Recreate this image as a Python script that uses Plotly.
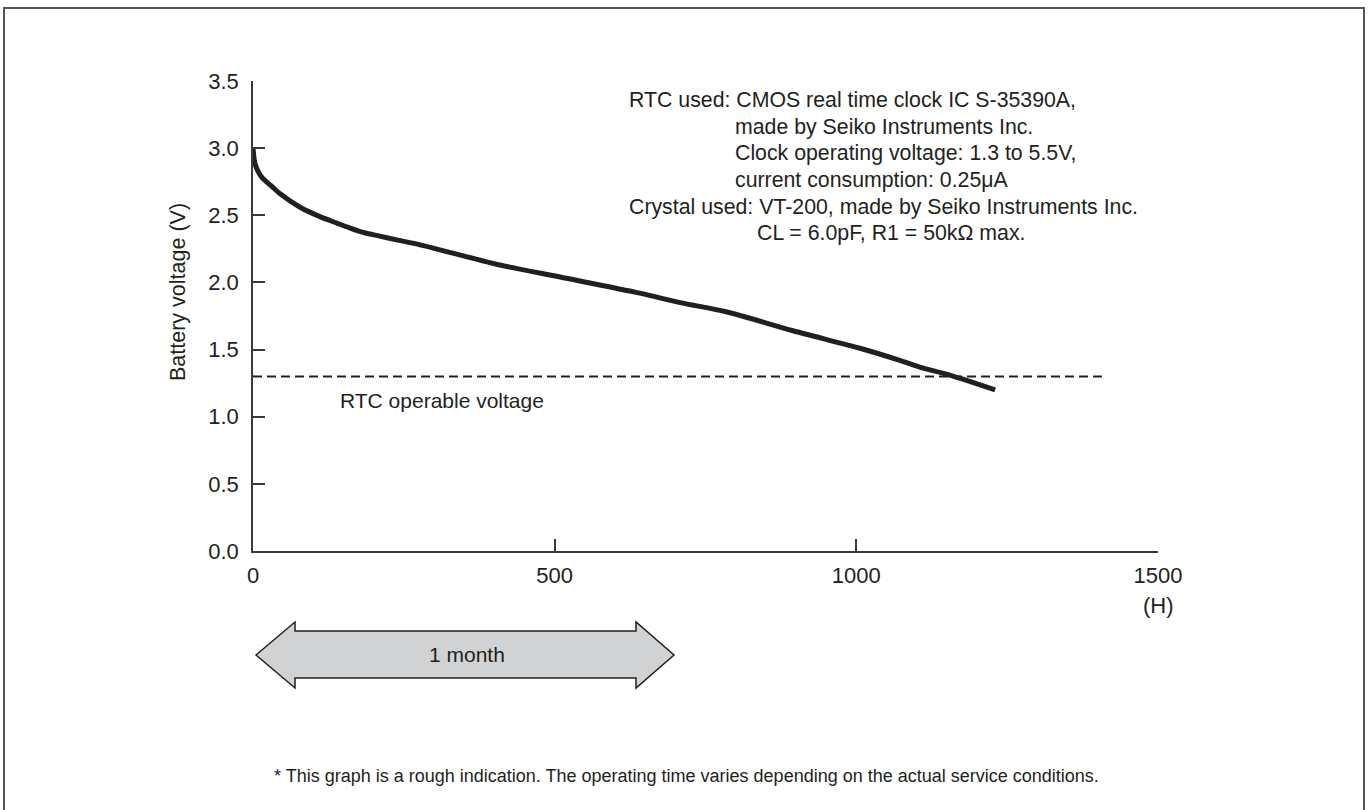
import plotly.graph_objects as go

# Data
hours = [0, 3, 8, 15, 30, 45, 78, 111, 140, 161, 185, 210, 240, 277, 409, 509, 641, 708, 786, 895, 1006, 1072, 1105, 1155, 1230]
voltage = [3.0, 2.89, 2.83, 2.78, 2.72, 2.66, 2.56, 2.49, 2.44, 2.405, 2.37, 2.345, 2.315, 2.28, 2.13, 2.04, 1.92, 1.85, 1.78, 1.64, 1.51, 1.42, 1.37, 1.31, 1.20]
operable_x = [0, 1407]
operable_v = [1.3, 1.3]
x_ticks = [0, 500, 1000, 1500]
y_ticks = [0.0, 0.5, 1.0, 1.5, 2.0, 2.5, 3.0, 3.5]
y_tick_labels = ["0.0", "0.5", "1.0", "1.5", "2.0", "2.5", "3.0", "3.5"]

note_lines = [
    ("RTC used: CMOS real time clock IC S-35390A,", 620, 3.356),
    ("made by Seiko Instruments Inc.", 795, 3.155),
    ("Clock operating voltage: 1.3 to 5.5V,", 795, 2.961),
    ("current consumption: 0.25μA", 795, 2.760),
    ("Crystal used: VT-200, made by Seiko Instruments Inc.", 620, 2.560),
    ("CL = 6.0pF, R1 = 50kΩ max.", 832, 2.366),
]

INK = "#231f20"
AXIS = "#3a3a3a"
FONT = "Liberation Sans, Arial, sans-serif"

fig = go.Figure()
fig.add_trace(go.Scatter(x=operable_x, y=operable_v, mode="lines",
                         line=dict(color=INK, width=2, dash="9px,5px"),
                         hoverinfo="skip", showlegend=False, cliponaxis=False))
fig.add_trace(go.Scatter(x=hours, y=voltage, mode="lines",
                         line=dict(color=INK, width=5, shape="spline", smoothing=0.8),
                         showlegend=False, cliponaxis=False))

fig.update_layout(
    width=1369, height=810,
    margin=dict(l=253, r=211, t=81, b=259),
    paper_bgcolor="white", plot_bgcolor="white",
    font=dict(family=FONT, color=INK, size=21),
    showlegend=False,
    xaxis=dict(range=[0, 1500], tickvals=x_ticks, ticks="inside", ticklen=12,
               tickwidth=1.5, tickcolor=AXIS, showline=True, linecolor=AXIS,
               linewidth=1.5, showgrid=False, zeroline=False, ticklabelstandoff=4,
               tickfont=dict(size=22, color=INK), fixedrange=True),
    yaxis=dict(range=[0, 3.5], tickvals=y_ticks, ticktext=y_tick_labels,
               ticks="inside", ticklen=12, tickwidth=1.5, tickcolor=AXIS,
               showline=True, linecolor=AXIS, linewidth=1.5, showgrid=False,
               zeroline=False, ticklabelstandoff=8,
               tickfont=dict(size=22, color=INK), fixedrange=True),
)

# outer frame
fig.add_shape(type="rect", xref="paper", yref="paper",
              x0=(4 - 253) / 905, x1=(1364 - 253) / 905,
              y0=(551 - 830) / 470, y1=(551 - 8) / 470,
              line=dict(color="#555555", width=2), fillcolor="rgba(0,0,0,0)", layer="below")

# "1 month" double arrow (paper coords)
def px2x(px):
    return (px - 253) / 905

def py2y(py):
    return (551 - py) / 470

pts = [(256, 655), (295, 622), (295, 631), (636, 631), (636, 622), (674, 655),
       (636, 688), (636, 678), (295, 678), (295, 688)]
path = "M " + " L ".join(f"{px2x(a):.5f},{py2y(b):.5f}" for a, b in pts) + " Z"
fig.add_shape(type="path", xref="paper", yref="paper", path=path,
              fillcolor="#d1d2d4", line=dict(color=INK, width=1.5))

annotations = []
for text, xv, yv in note_lines:
    annotations.append(dict(x=xv, y=yv, xref="x", yref="y", text=text, showarrow=False,
                            xanchor="left", yanchor="middle", font=dict(size=21.3)))
annotations += [
    dict(x=313, y=1.12, xref="x", yref="y", text="RTC operable voltage", showarrow=False,
         xanchor="center", yanchor="middle", font=dict(size=21)),
    dict(x=1500, y=py2y(605), xref="paper" if False else "x", yref="paper", text="(H)", showarrow=False,
         xanchor="center", yanchor="middle", font=dict(size=22)),
    dict(x=px2x(178), y=py2y(292), xref="paper", yref="paper", text="Battery voltage (V)",
         showarrow=False, textangle=-90, xanchor="center", yanchor="middle", font=dict(size=21.5)),
    dict(x=px2x(467), y=py2y(655), xref="paper", yref="paper", text="1 month",
         showarrow=False, xanchor="center", yanchor="middle", font=dict(size=21)),
    dict(x=px2x(686), y=py2y(776), xref="paper", yref="paper",
         text="* This graph is a rough indication. The operating time varies depending on the actual service conditions.",
         showarrow=False, xanchor="center", yanchor="middle", font=dict(size=18)),
]
fig.update_layout(annotations=annotations)

fig.write_html("out.html", config={"displayModeBar": False},
               post_script="document.body.style.margin='0';document.body.style.overflow='hidden';")
